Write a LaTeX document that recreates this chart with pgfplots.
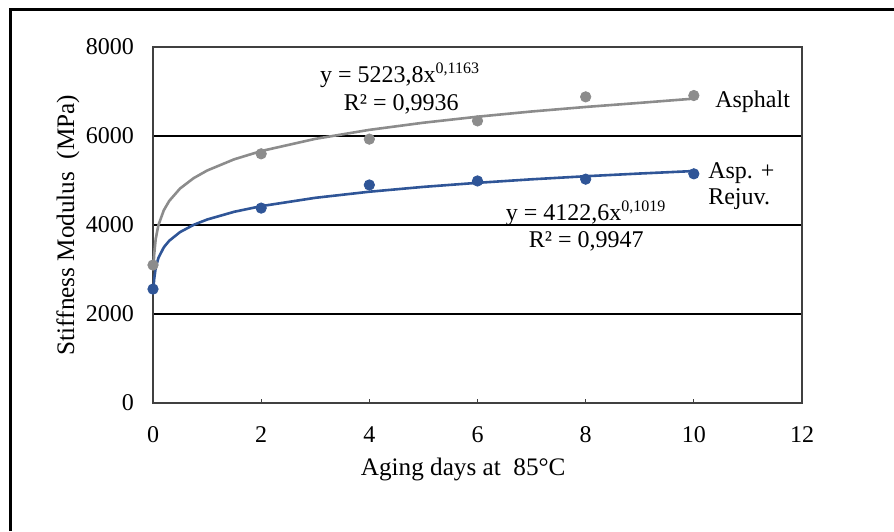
\documentclass[border=0pt]{standalone}
\usepackage{fontspec}
\setmainfont{Liberation Serif}
\usepackage{pgfplots}
\pgfplotsset{compat=1.18}
\definecolor{asph}{RGB}{140,140,140}
\definecolor{rejuv}{RGB}{47,85,151}
\newcommand{\fs}{\fontsize{12}{14.4}\selectfont}

\begin{document}
\begin{tikzpicture}
\useasboundingbox (0,0) rectangle (447pt,265.5pt);
% outer frame, cut off at the bottom and right
\draw[line width=1.5pt] (5pt,0) -- (5pt,260.5pt) -- (447pt,260.5pt);
\begin{axis}[
  at={(76.5pt,64pt)}, anchor=south west,
  scale only axis, width=324.5pt, height=178pt,
  xmin=0, xmax=12, ymin=0, ymax=8000,
  xtick={0,2,...,12}, ytick={0,2000,4000,6000,8000},
  xtick pos=bottom, tick align=inside,
  major tick length=2pt,
  y tick style={draw=none},
  ymajorgrids, grid style={black, line width=0.6pt},
  axis line style={black!75, line width=0.8pt},
  every tick/.style={black!75, line width=0.6pt},
  /pgf/number format/assume math mode=true,
  /pgf/number format/1000 sep={},
  tick label style={font=\fs},
  xticklabel style={anchor=center, yshift=-16pt},
  yticklabel style={anchor=east, xshift=-6pt},
  xlabel={Aging days at\ \ 85°C},
  ylabel={Stiffness Modulus\ \ (MPa)},
  label style={font=\fontsize{12.6}{15}\selectfont},
  xlabel style={at={(axis description cs:0.478,-0.188)}, anchor=center},
  ylabel style={at={(axis description cs:-0.131,0.5)}, anchor=center},
  clip=false,
]
% power trend lines (Excel fit, drawn from x = 0.01)
\addplot[asph, line width=1.3pt] coordinates {
  (0.01,3057) (0.02,3314) (0.05,3687) (0.1,3997) (0.2,4332) (0.3,4541)
  (0.5,4820) (0.75,5052) (1,5224) (1.5,5476) (2,5662) (3,5936) (4,6138)
  (5,6299) (6,6434) (7,6551) (8,6653) (9,6745) (10,6840)};
\addplot[rejuv, line width=1.3pt] coordinates {
  (0.01,2578) (0.02,2767) (0.05,3038) (0.1,3261) (0.2,3499) (0.3,3646)
  (0.5,3841) (0.75,4003) (1,4123) (1.5,4297) (2,4424) (3,4611) (4,4748)
  (5,4857) (6,4948) (7,5027) (8,5096) (9,5157) (10,5213)};
% measured values
\addplot[only marks, mark=*, mark size=2.6pt, asph] coordinates {
  (0,3100) (2,5600) (4,5930) (6,6340) (8,6880) (10,6910)};
\addplot[only marks, mark=*, mark size=2.6pt, rejuv] coordinates {
  (0,2560) (2,4380) (4,4900) (6,4990) (8,5030) (10,5150)};

\node[font=\fs, anchor=base] at (axis cs:4.57,7213) {y = 5223,8x\textsuperscript{0,1163}};
\node[font=\fs, anchor=base] at (axis cs:4.59,6584) {R² = 0,9936};
\node[font=\fs, anchor=base] at (axis cs:8.01,4112) {y = 4122,6x\textsuperscript{0,1019}};
\node[font=\fs, anchor=base] at (axis cs:8.01,3500) {R² = 0,9947};
\node[font=\fs, anchor=base west, inner sep=0pt] at (axis cs:10.39,6651) {Asphalt};
\node[font=\fs, anchor=base west, inner sep=0pt] at (axis cs:10.26,5056) {Asp. +};
\node[font=\fs, anchor=base west, inner sep=0pt] at (axis cs:10.26,4472) {Rejuv.};
\end{axis}
\end{tikzpicture}
\end{document}
